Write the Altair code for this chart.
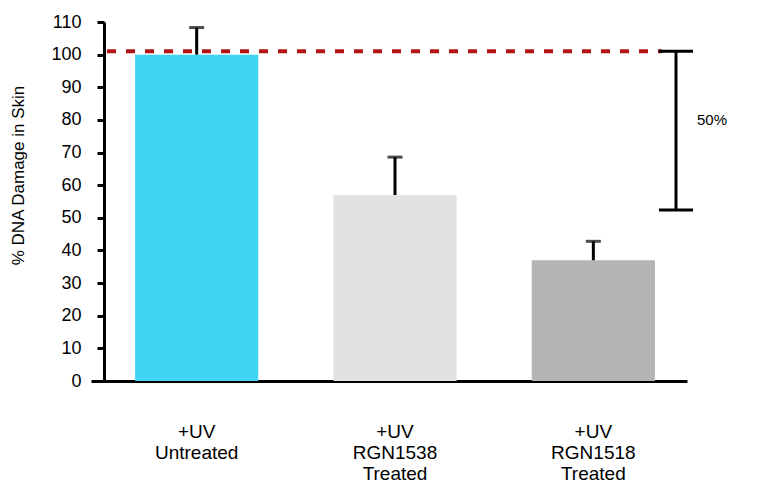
import altair as alt
import pandas as pd

categories = ["+UV\nUntreated", "+UV\nRGN1538\nTreated", "+UV\nRGN1518\nTreated"]
values = [100, 57, 37]
error_top = [108.3, 68.6, 42.8]
bar_colors = ["#3fd3f4", "#e2e2e2", "#b4b4b4"]
reference_level = [101]
bracket_range = [101, 52.4]
bracket_label = ["50%"]
bracket_label_y = [80]
y_ticks = [0, 10, 20, 30, 40, 50, 60, 70, 80, 90, 100, 110]

FONT = "Liberation Sans"
W, H = 596, 359

df = pd.DataFrame({"cat": categories, "value": values, "err": error_top})

x_axis = alt.Axis(
    title=None,
    labelAngle=0,
    ticks=False,
    domainWidth=3,
    domainColor="black",
    labelFont=FONT,
    labelFontSize=19,
    labelColor="black",
    labelPadding=41,
    labelBaseline="top",
    labelLineHeight=21,
    labelOverlap=False,
    labelExpr="split(datum.label, '\\n')",
)


def y_axis():
    return alt.Axis(
        title="% DNA Damage in Skin",
        values=y_ticks,
        grid=False,
        offset=-13,
        domainWidth=3,
        domainColor="black",
        tickWidth=3,
        tickSize=7,
        tickColor="black",
        labelFont=FONT,
        labelFontSize=18,
        labelColor="black",
        labelPadding=16,
        labelOverlap=False,
        labelFlush=False,
        titleFont=FONT,
        titleFontSize=17,
        titleFontWeight="normal",
        titleColor="black",
        titleAngle=-90,
        titleBaseline="middle",
        titleAlign="center",
        titleX=-86,
        titleY=153,
    )


y_scale = alt.Scale(domain=[0, 110], nice=False, zero=True)
x_scale = alt.Scale(paddingInner=0.379, paddingOuter=0.192, align=0.579)


def X():
    return alt.X("cat:N", sort=categories, scale=x_scale, axis=x_axis)


def Y(field):
    return alt.Y(field, scale=y_scale, axis=y_axis())


base = alt.Chart(df)

bars = base.mark_bar().encode(
    x=X(),
    y=Y("value:Q"),
    color=alt.Color("cat:N", scale=alt.Scale(domain=categories, range=bar_colors), legend=None),
)

stems = base.mark_rule(color="black", strokeWidth=3).encode(
    x=X(),
    y=Y("value:Q"),
    y2="err:Q",
)

caps = base.mark_tick(color="black", thickness=3, size=15).encode(
    x=X(),
    y=Y("err:Q"),
)

ref = alt.Chart(pd.DataFrame({"y": reference_level})).mark_rule(
    color="#b01414", strokeWidth=4, strokeDash=[9, 10]
).encode(y=Y("y:Q"), x=alt.value(16), x2=alt.value(571))

bdf = pd.DataFrame({"lo": [bracket_range[1]], "hi": [bracket_range[0]]})
bracket_v = alt.Chart(bdf).mark_rule(color="black", strokeWidth=3).encode(
    y=Y("hi:Q"), y2="lo:Q", x=alt.value(585)
)
cap_df = pd.DataFrame({"y": bracket_range})
bracket_caps = alt.Chart(cap_df).mark_rule(color="black", strokeWidth=3).encode(
    y=Y("y:Q"), x=alt.value(568), x2=alt.value(602)
)
label = alt.Chart(pd.DataFrame({"t": bracket_label, "y": bracket_label_y})).mark_text(
    align="left", baseline="middle", font=FONT, fontSize=15, color="black"
).encode(y=Y("y:Q"), text="t:N", x=alt.value(606))

chart = alt.layer(bars, ref, stems, caps, bracket_v, bracket_caps, label).properties(
    width=W,
    height=H,
    autosize=alt.AutoSizeParams(type="none"),
    padding={"left": 83, "top": 14, "right": 80, "bottom": 110},
).configure_view(stroke=None, clip=False)

chart.save("out.html", embed_options={"renderer": "svg", "actions": False})
